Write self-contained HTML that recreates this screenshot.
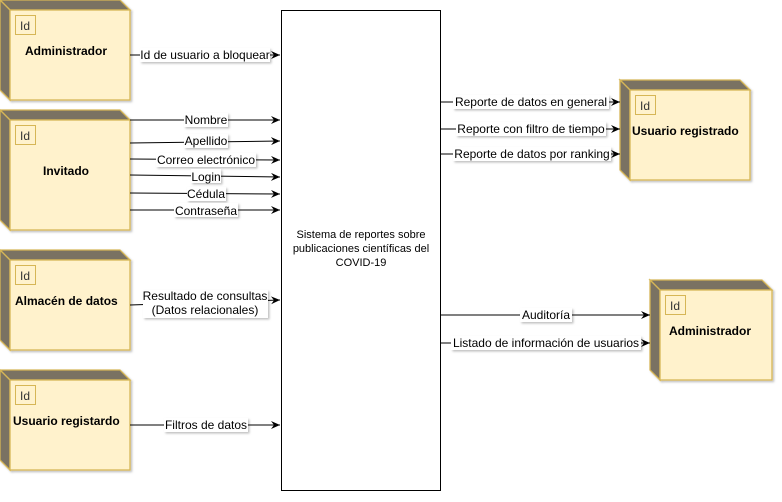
<!DOCTYPE html><html><head><style>body{margin:0;background:#fff}svg{display:block}text{font-family:"Liberation Sans",Arial,sans-serif}</style></head><body>
<svg width="782" height="502" viewBox="0 0 782 502" xmlns="http://www.w3.org/2000/svg">
<defs><marker id="a" markerWidth="10" markerHeight="8" refX="9" refY="4" orient="auto" markerUnits="userSpaceOnUse"><path d="M0,0 L9,4 L0,8 L3,4 Z" fill="#000"/></marker>
<filter id="s"><feDropShadow dx="1.5" dy="1.5" stdDeviation="1" flood-color="#000" flood-opacity="0.25"/></filter></defs>
<g stroke="#d6b656" stroke-width="1.3" filter="url(#s)">
<path d="M0,0 L120,0 L130,10 L10,10 Z" fill="#7a7262"/><path d="M0,0 L10,10 L10,100 L0,90 Z" fill="#7a7262"/><rect x="10" y="10" width="120" height="90" fill="#fff2cc"/>
<path d="M0,110 L120,110 L130,120 L10,120 Z" fill="#7a7262"/><path d="M0,110 L10,120 L10,230 L0,220 Z" fill="#7a7262"/><rect x="10" y="120" width="120" height="110" fill="#fff2cc"/>
<path d="M0,250 L120,250 L130,260 L10,260 Z" fill="#7a7262"/><path d="M0,250 L10,260 L10,350 L0,340 Z" fill="#7a7262"/><rect x="10" y="260" width="120" height="90" fill="#fff2cc"/>
<path d="M0,370 L120,370 L130,380 L10,380 Z" fill="#7a7262"/><path d="M0,370 L10,380 L10,470 L0,460 Z" fill="#7a7262"/><rect x="10" y="380" width="120" height="90" fill="#fff2cc"/>
<path d="M620,80 L740,80 L750,90 L630,90 Z" fill="#7a7262"/><path d="M620,80 L630,90 L630,180 L620,170 Z" fill="#7a7262"/><rect x="630" y="90" width="120" height="90" fill="#fff2cc"/>
<path d="M650,280 L762,280 L772,290 L660,290 Z" fill="#7a7262"/><path d="M650,280 L660,290 L660,380 L650,370 Z" fill="#7a7262"/><rect x="660" y="290" width="112" height="90" fill="#fff2cc"/>
</g>
<g fill="none" stroke="#d6b656" stroke-width="1">
<rect x="15.5" y="15.5" width="20" height="19"/><rect x="15.5" y="125.5" width="20" height="19"/><rect x="15.5" y="265.5" width="20" height="19"/><rect x="15.5" y="385.5" width="20" height="19"/><rect x="635.5" y="95.5" width="20" height="19"/><rect x="665.5" y="295.5" width="20" height="19"/>
</g>
<g font-size="12" fill="#333">
<text x="20" y="30">Id</text><text x="20" y="140">Id</text><text x="20" y="280">Id</text><text x="20" y="400">Id</text><text x="640" y="110">Id</text><text x="670" y="310">Id</text>
</g>
<g font-size="12" font-weight="bold" fill="#000">
<text x="25" y="55">Administrador</text><text x="43" y="175">Invitado</text><text x="15" y="305">Almacén de datos</text><text x="13" y="425">Usuario registardo</text><text x="632" y="135">Usuario registrado</text><text x="669" y="335">Administrador</text>
</g>
<rect x="281.5" y="10.5" width="159" height="480" fill="#fff" stroke="#000"/>
<g font-size="11" fill="#000" text-anchor="middle"><text x="361" y="238">Sistema de reportes sobre</text><text x="361" y="252">publicaciones científicas del</text><text x="361" y="266">COVID-19</text></g>
<g stroke="#000" stroke-width="1" marker-end="url(#a)">
<line x1="130" y1="55" x2="280" y2="55"/>
<line x1="130" y1="120" x2="280" y2="120"/><line x1="130" y1="143" x2="280" y2="141"/><line x1="130" y1="159" x2="280" y2="160"/><line x1="130" y1="175" x2="280" y2="177"/><line x1="130" y1="193" x2="280" y2="194"/><line x1="130" y1="210" x2="280" y2="210"/>
<line x1="130" y1="305" x2="280" y2="300"/><line x1="130" y1="425" x2="280" y2="425"/>
<line x1="441" y1="102" x2="620" y2="102"/><line x1="441" y1="129" x2="620" y2="129"/><line x1="441" y1="154" x2="620" y2="154"/>
<line x1="441" y1="315" x2="650" y2="315"/><line x1="441" y1="343" x2="650" y2="343"/>
</g>
<g font-size="12" fill="#000" text-anchor="middle">
<g fill="#fff" filter="url(#s)">
<rect x="140" y="48" width="130" height="14"/><rect x="184" y="113" width="44" height="14"/><rect x="184" y="134" width="44" height="14"/><rect x="156" y="153" width="100" height="14"/><rect x="191" y="169" width="30" height="14"/><rect x="187" y="187" width="39" height="14"/><rect x="174" y="203" width="64" height="14"/><rect x="143" y="290" width="125" height="28"/><rect x="164" y="418" width="84" height="14"/>
<rect x="453" y="95" width="156" height="14"/><rect x="456" y="122" width="150" height="14"/><rect x="453" y="147" width="158" height="14"/><rect x="520" y="308" width="52" height="14"/><rect x="451" y="336" width="190" height="14"/>
</g>
<text x="205" y="59">Id de usuario a bloquear</text><text x="206" y="124">Nombre</text><text x="206" y="145">Apellido</text><text x="206" y="164">Correo electrónico</text><text x="206" y="181">Login</text><text x="206" y="198">Cédula</text><text x="206" y="215">Contraseña</text>
<text x="205" y="300">Resultado de consultas</text><text x="205" y="314">(Datos relacionales)</text><text x="206" y="429">Filtros de datos</text>
<text x="531" y="106">Reporte de datos en general</text><text x="531" y="133">Reporte con filtro de tiempo</text><text x="532" y="158">Reporte de datos por ranking</text>
<text x="546" y="319">Auditoría</text><text x="546" y="347">Listado de información de usuarios</text>
</g>
</svg></body></html>
